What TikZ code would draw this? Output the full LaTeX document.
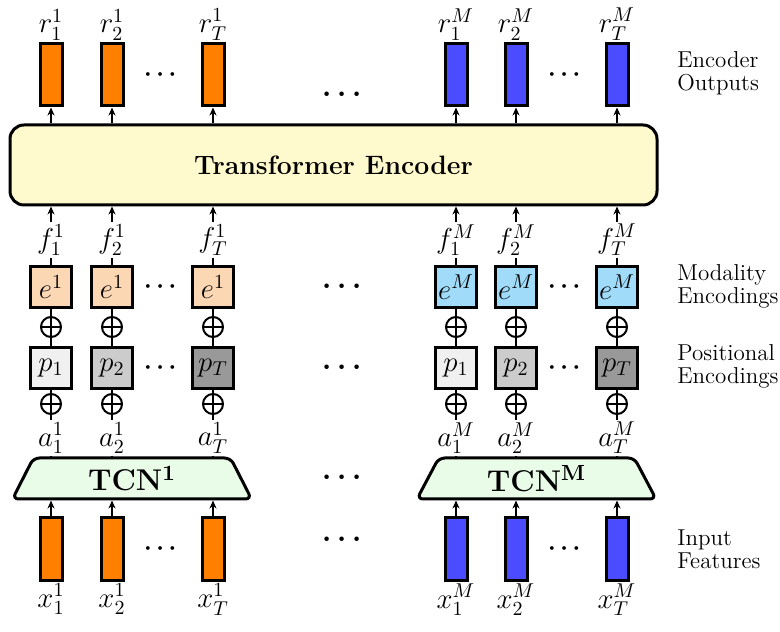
\documentclass[tikz,border=0pt]{standalone}
\usepackage{amsmath,amssymb}
\usepackage{tikz}
\usetikzlibrary{arrows.meta,positioning,shapes.geometric}

\definecolor{featA}{RGB}{255,128,0}
\definecolor{featM}{RGB}{75,75,255}
\definecolor{modA}{RGB}{252,215,180}
\definecolor{modM}{RGB}{160,220,250}
\definecolor{encfill}{RGB}{255,250,205}
\definecolor{tcnfill}{RGB}{232,252,232}

\begin{document}
\begin{tikzpicture}[
  x=0.5pt, y=0.5pt,
  bar/.style={draw, line width=1.5pt, minimum width=11pt, minimum height=31pt, inner sep=0pt},
  encbox/.style={draw, line width=1.5pt, rounded corners=7pt, fill=encfill, minimum width=323.5pt, minimum height=40pt, font=\fontsize{13.3}{15}\selectfont\bfseries},
  tcnbox/.style={draw, line width=1.5pt, trapezium, trapezium left angle=50, trapezium right angle=50, trapezium stretches body, rounded corners=3pt, fill=tcnfill, minimum width=119.5pt, minimum height=20.5pt, font=\fontsize{15}{17}\selectfont\bfseries, inner sep=0pt},
  sq/.style={draw, line width=1.5pt, minimum size=20.5pt, inner sep=0pt, font=\Large},
  oplus/.style={draw, circle, line width=1pt, minimum size=10pt, inner sep=0pt,
    path picture={\draw[line width=1pt] (path picture bounding box.north) -- (path picture bounding box.south)
      (path picture bounding box.west) -- (path picture bounding box.east);}},
  lbl/.style={inner sep=1pt, font=\Large},
  side/.style={anchor=west, align=left, font=\fontsize{11.5}{11.5}\selectfont, inner sep=0pt},
  arr/.style={-{Stealth[length=4pt,width=3.5pt]}, line width=1pt},
  ln/.style={line width=1pt},
  dots/.style={font=\large},
  bigdots/.style={font=\Large}
]
\useasboundingbox (0,0) rectangle (780,631);

\node[encbox] (enc) at (333.5,466) {Transformer Encoder};

% one block of columns per modality
\foreach \g/\m/\fc/\ec/\xa/\xb/\xc in {A/1/featA/modA/51/112/213, M/M/featM/modM/456/516/617} {
  \node[tcnbox] (tcn\g) at ({(\xa+\xc)/2},152.5) {TCN$^{\mathbf{\m}}$};
  \foreach \i/\x/\pf in {1/\xa/black!6, 2/\xb/black!20, T/\xc/black!40} {
    \node[bar, fill=\fc] (out\g\i) at (\x,556) {};
    \node[lbl, above=0pt of out\g\i] (r\g\i) {$r^{\m}_{\i}$};
    \node[lbl] (f\g\i) at (\x,391) {$f^{\m}_{\i}$};
    \node[sq, fill=\ec] (e\g\i) at (\x,344) {$e^{\m}$};
    \node[oplus] (pa\g\i) at (\x,304) {};
    \node[sq, fill=\pf] (p\g\i) at (\x,263) {$p_{\i}$};
    \node[oplus] (pb\g\i) at (\x,227) {};
    \node[lbl] (a\g\i) at (\x,193) {$a^{\m}_{\i}$};
    \node[bar, fill=\fc] (in\g\i) at (\x,82) {};
    \node[lbl, below=0pt of in\g\i] (x\g\i) {$x^{\m}_{\i}$};
    \draw[arr] (enc.north -| out\g\i) -- (out\g\i);
    \draw[arr] (f\g\i) -- (enc.south -| f\g\i);
    \draw[ln] (e\g\i) -- (f\g\i);
    \draw[ln] (e\g\i) -- (pa\g\i) -- (p\g\i) -- (pb\g\i) -- (a\g\i);
    \draw[ln] (a\g\i) -- (tcn\g.north -| a\g\i);
    \draw[arr] (in\g\i) -- (tcn\g.south -| in\g\i);
  }
  \node[dots] (dout\g) at ({(\xb+\xc)/2},556) {$\boldsymbol{\cdots}$};
  \node[dots] (de\g) at ({(\xb+\xc)/2},344) {$\boldsymbol{\cdots}$};
  \node[dots] (dp\g) at ({(\xb+\xc)/2},263) {$\boldsymbol{\cdots}$};
  \node[dots] (din\g) at ({(\xb+\xc)/2},82) {$\boldsymbol{\cdots}$};
}

% dots between the modalities
\node[bigdots] (bout) at (345,536) {$\boldsymbol{\cdots}$};
\node[bigdots] (be) at (345,344) {$\boldsymbol{\cdots}$};
\node[bigdots] (bp) at (345,263) {$\boldsymbol{\cdots}$};
\node[bigdots] (btcn) at (345,153) {$\boldsymbol{\cdots}$};
\node[bigdots] (bin) at (345,91) {$\boldsymbol{\cdots}$};

% row labels
\node[side] (lout) at (677,558) {Encoder\\Outputs};
\node[side] (lmod) at (677,345) {Modality\\Encodings};
\node[side] (lpos) at (677,265) {Positional\\Encodings};
\node[side] (lin) at (677,82) {Input\\Features};
\end{tikzpicture}
\end{document}
